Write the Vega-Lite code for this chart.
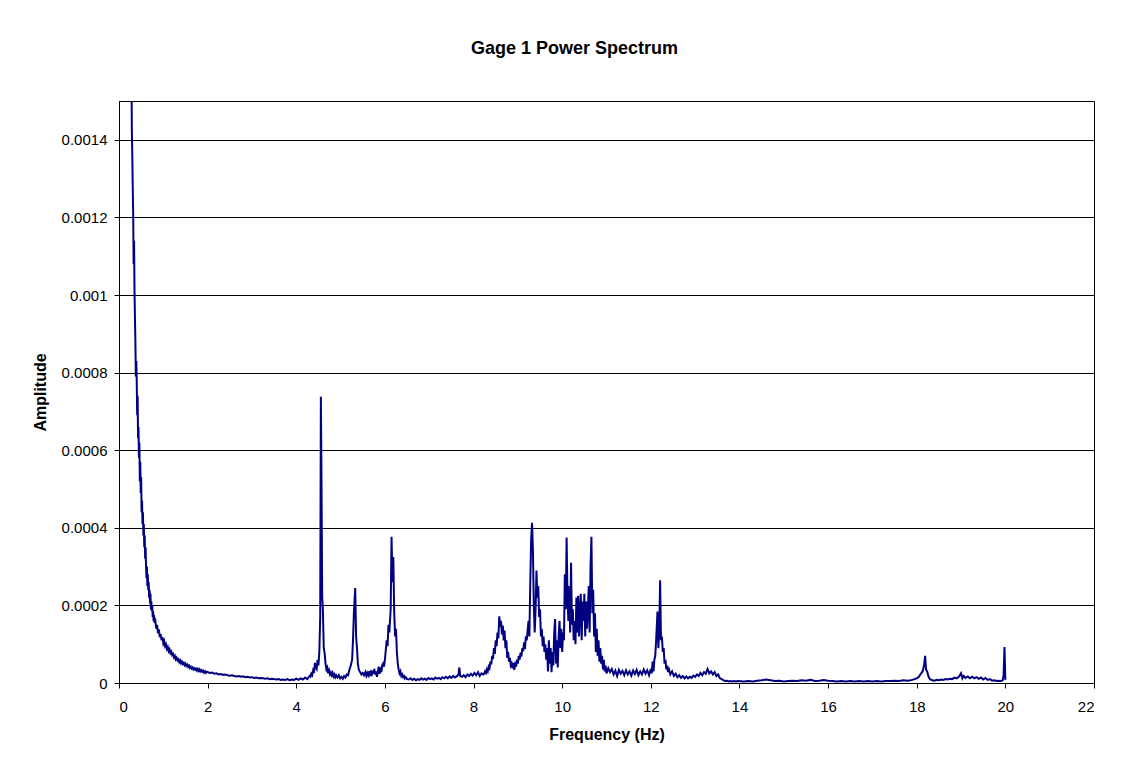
{
  "$schema": "https://vega.github.io/schema/vega-lite/v6.json",
  "autosize": {"type": "none"},
  "padding": {"left": 119, "top": 101, "right": 34, "bottom": 84},
  "width": 975,
  "height": 582,
  "background": "white",
  "config": {
    "font": "Liberation Sans",
    "view": {"stroke": "#000000", "strokeWidth": 1}
  },
  "title": {
    "text": "Gage 1 Power Spectrum",
    "font": "Liberation Sans",
    "fontSize": 18,
    "fontWeight": "bold",
    "color": "#000000",
    "anchor": "middle",
    "dx": -32,
    "offset": 43
  },
  "data": {
    "values": [
      {"freq": 0.27, "amp": 0.00195},
      {"freq": 0.28, "amp": 0.0016},
      {"freq": 0.29, "amp": 0.00142},
      {"freq": 0.3, "amp": 0.00136},
      {"freq": 0.31, "amp": 0.00128},
      {"freq": 0.32, "amp": 0.00121},
      {"freq": 0.33, "amp": 0.00108},
      {"freq": 0.34, "amp": 0.00114},
      {"freq": 0.35, "amp": 0.00101},
      {"freq": 0.36, "amp": 0.00094},
      {"freq": 0.37, "amp": 0.00088},
      {"freq": 0.38, "amp": 0.00079},
      {"freq": 0.39, "amp": 0.00083},
      {"freq": 0.4, "amp": 0.00078},
      {"freq": 0.41, "amp": 0.00069},
      {"freq": 0.42, "amp": 0.00074},
      {"freq": 0.43, "amp": 0.00063},
      {"freq": 0.44, "amp": 0.00066},
      {"freq": 0.45, "amp": 0.00058},
      {"freq": 0.46, "amp": 0.00062},
      {"freq": 0.47, "amp": 0.00052},
      {"freq": 0.48, "amp": 0.00057},
      {"freq": 0.49, "amp": 0.00049},
      {"freq": 0.5, "amp": 0.00053},
      {"freq": 0.51, "amp": 0.00044},
      {"freq": 0.52, "amp": 0.00047},
      {"freq": 0.53, "amp": 0.00041},
      {"freq": 0.54, "amp": 0.00044},
      {"freq": 0.55, "amp": 0.00038},
      {"freq": 0.56, "amp": 0.00041},
      {"freq": 0.57, "amp": 0.00035},
      {"freq": 0.58, "amp": 0.00038},
      {"freq": 0.59, "amp": 0.00032},
      {"freq": 0.6, "amp": 0.00035},
      {"freq": 0.61, "amp": 0.0003},
      {"freq": 0.62, "amp": 0.00027},
      {"freq": 0.63, "amp": 0.0003},
      {"freq": 0.64, "amp": 0.00025},
      {"freq": 0.65, "amp": 0.00028},
      {"freq": 0.66, "amp": 0.00024},
      {"freq": 0.67, "amp": 0.00026},
      {"freq": 0.68, "amp": 0.00022},
      {"freq": 0.69, "amp": 0.00024},
      {"freq": 0.7, "amp": 0.000205},
      {"freq": 0.71, "amp": 0.00023},
      {"freq": 0.72, "amp": 0.00019},
      {"freq": 0.73, "amp": 0.00021},
      {"freq": 0.74, "amp": 0.000185},
      {"freq": 0.75, "amp": 0.0002},
      {"freq": 0.76, "amp": 0.00017},
      {"freq": 0.77, "amp": 0.000185},
      {"freq": 0.78, "amp": 0.00016},
      {"freq": 0.79, "amp": 0.000175},
      {"freq": 0.8, "amp": 0.000155},
      {"freq": 0.82, "amp": 0.00016},
      {"freq": 0.84, "amp": 0.00014},
      {"freq": 0.86, "amp": 0.00015},
      {"freq": 0.88, "amp": 0.000128},
      {"freq": 0.9, "amp": 0.000138},
      {"freq": 0.92, "amp": 0.000118},
      {"freq": 0.94, "amp": 0.000126},
      {"freq": 0.96, "amp": 0.00011},
      {"freq": 0.98, "amp": 0.000118},
      {"freq": 1.0, "amp": 0.000102},
      {"freq": 1.02, "amp": 0.000108},
      {"freq": 1.04, "amp": 0.000095},
      {"freq": 1.06, "amp": 0.0001},
      {"freq": 1.08, "amp": 0.000088},
      {"freq": 1.1, "amp": 0.000093},
      {"freq": 1.12, "amp": 0.000082},
      {"freq": 1.14, "amp": 0.000087},
      {"freq": 1.16, "amp": 0.000077},
      {"freq": 1.18, "amp": 0.000081},
      {"freq": 1.2, "amp": 0.000072},
      {"freq": 1.22, "amp": 0.000075},
      {"freq": 1.24, "amp": 0.000066},
      {"freq": 1.26, "amp": 0.00007},
      {"freq": 1.28, "amp": 0.000061},
      {"freq": 1.3, "amp": 0.000065},
      {"freq": 1.32, "amp": 0.000058},
      {"freq": 1.34, "amp": 0.000061},
      {"freq": 1.36, "amp": 0.000054},
      {"freq": 1.38, "amp": 0.000058},
      {"freq": 1.4, "amp": 0.000051},
      {"freq": 1.42, "amp": 0.000055},
      {"freq": 1.44, "amp": 0.000049},
      {"freq": 1.46, "amp": 0.000052},
      {"freq": 1.48, "amp": 0.000046},
      {"freq": 1.5, "amp": 0.00005},
      {"freq": 1.52, "amp": 0.000044},
      {"freq": 1.54, "amp": 0.000047},
      {"freq": 1.56, "amp": 0.000042},
      {"freq": 1.58, "amp": 0.000045},
      {"freq": 1.6, "amp": 0.000039},
      {"freq": 1.62, "amp": 0.000042},
      {"freq": 1.64, "amp": 0.000037},
      {"freq": 1.66, "amp": 0.00004},
      {"freq": 1.68, "amp": 0.000035},
      {"freq": 1.7, "amp": 0.000038},
      {"freq": 1.72, "amp": 0.000034},
      {"freq": 1.74, "amp": 0.000037},
      {"freq": 1.76, "amp": 0.000032},
      {"freq": 1.78, "amp": 0.000036},
      {"freq": 1.8, "amp": 0.000031},
      {"freq": 1.82, "amp": 0.000035},
      {"freq": 1.84, "amp": 0.00003},
      {"freq": 1.86, "amp": 0.000033},
      {"freq": 1.88, "amp": 0.000029},
      {"freq": 1.9, "amp": 0.000032},
      {"freq": 1.92, "amp": 0.000027},
      {"freq": 1.94, "amp": 0.00003},
      {"freq": 1.96, "amp": 0.000026},
      {"freq": 1.98, "amp": 0.000029},
      {"freq": 2.05, "amp": 0.000026},
      {"freq": 2.1, "amp": 0.000027},
      {"freq": 2.15, "amp": 0.000024},
      {"freq": 2.2, "amp": 0.000025},
      {"freq": 2.25, "amp": 0.000022},
      {"freq": 2.3, "amp": 0.000023},
      {"freq": 2.35, "amp": 0.000021},
      {"freq": 2.4, "amp": 0.000022},
      {"freq": 2.45, "amp": 0.00002},
      {"freq": 2.5, "amp": 0.000019},
      {"freq": 2.55, "amp": 0.00002},
      {"freq": 2.6, "amp": 0.000018},
      {"freq": 2.65, "amp": 0.000017},
      {"freq": 2.7, "amp": 0.000018},
      {"freq": 2.75, "amp": 0.000016},
      {"freq": 2.8, "amp": 0.000017},
      {"freq": 2.85, "amp": 0.000015},
      {"freq": 2.9, "amp": 0.000016},
      {"freq": 2.95, "amp": 0.000014},
      {"freq": 3.0, "amp": 0.000015},
      {"freq": 3.05, "amp": 0.000013},
      {"freq": 3.1, "amp": 0.000014},
      {"freq": 3.15, "amp": 0.000012},
      {"freq": 3.2, "amp": 0.000013},
      {"freq": 3.25, "amp": 0.000012},
      {"freq": 3.3, "amp": 0.000011},
      {"freq": 3.35, "amp": 0.000012},
      {"freq": 3.4, "amp": 0.00001},
      {"freq": 3.45, "amp": 0.000011},
      {"freq": 3.5, "amp": 0.00001},
      {"freq": 3.55, "amp": 0.000009},
      {"freq": 3.6, "amp": 0.00001},
      {"freq": 3.65, "amp": 0.000008},
      {"freq": 3.7, "amp": 0.000009},
      {"freq": 3.75, "amp": 0.000008},
      {"freq": 3.8, "amp": 0.00001},
      {"freq": 3.85, "amp": 0.000007},
      {"freq": 3.9, "amp": 0.000009},
      {"freq": 3.95, "amp": 0.000008},
      {"freq": 4.0, "amp": 0.000011},
      {"freq": 4.05, "amp": 0.000008},
      {"freq": 4.1, "amp": 0.000012},
      {"freq": 4.15, "amp": 0.000009},
      {"freq": 4.2, "amp": 0.000014},
      {"freq": 4.25, "amp": 0.00001},
      {"freq": 4.3, "amp": 0.000018},
      {"freq": 4.32, "amp": 0.000016},
      {"freq": 4.34, "amp": 0.000024},
      {"freq": 4.36, "amp": 0.00002},
      {"freq": 4.38, "amp": 0.000032},
      {"freq": 4.4, "amp": 0.000026},
      {"freq": 4.42, "amp": 0.000052},
      {"freq": 4.44, "amp": 0.00004},
      {"freq": 4.46, "amp": 0.000036},
      {"freq": 4.48, "amp": 0.00006},
      {"freq": 4.5, "amp": 0.000045},
      {"freq": 4.52, "amp": 0.00008},
      {"freq": 4.54, "amp": 0.00017},
      {"freq": 4.555, "amp": 0.000738},
      {"freq": 4.57, "amp": 0.00051},
      {"freq": 4.585, "amp": 0.00022},
      {"freq": 4.6, "amp": 0.00019},
      {"freq": 4.62, "amp": 0.00009},
      {"freq": 4.64, "amp": 0.000077},
      {"freq": 4.66, "amp": 0.00005},
      {"freq": 4.68, "amp": 0.000035},
      {"freq": 4.7, "amp": 0.00004},
      {"freq": 4.72, "amp": 0.000025},
      {"freq": 4.74, "amp": 0.000032},
      {"freq": 4.76, "amp": 0.000022},
      {"freq": 4.78, "amp": 0.000027},
      {"freq": 4.8, "amp": 0.00002},
      {"freq": 4.82, "amp": 0.000026},
      {"freq": 4.84, "amp": 0.000017},
      {"freq": 4.86, "amp": 0.000022},
      {"freq": 4.88, "amp": 0.000015},
      {"freq": 4.9, "amp": 0.00002},
      {"freq": 4.93, "amp": 0.000014},
      {"freq": 4.96, "amp": 0.00002},
      {"freq": 4.99, "amp": 0.000012},
      {"freq": 5.02, "amp": 0.000016},
      {"freq": 5.05, "amp": 0.000011},
      {"freq": 5.08, "amp": 0.000018},
      {"freq": 5.11, "amp": 0.000014},
      {"freq": 5.14, "amp": 0.000022},
      {"freq": 5.17, "amp": 0.00002},
      {"freq": 5.2, "amp": 0.000035},
      {"freq": 5.23, "amp": 0.000045},
      {"freq": 5.26, "amp": 0.00006},
      {"freq": 5.28, "amp": 0.00011},
      {"freq": 5.3, "amp": 0.00018},
      {"freq": 5.33, "amp": 0.000245},
      {"freq": 5.35, "amp": 0.00012},
      {"freq": 5.37, "amp": 0.00009},
      {"freq": 5.39, "amp": 0.00005},
      {"freq": 5.41, "amp": 0.000035},
      {"freq": 5.44, "amp": 0.000028},
      {"freq": 5.47, "amp": 0.000022},
      {"freq": 5.5, "amp": 0.000026},
      {"freq": 5.53, "amp": 0.00002},
      {"freq": 5.56, "amp": 0.000028},
      {"freq": 5.58, "amp": 0.000019},
      {"freq": 5.6, "amp": 0.000026},
      {"freq": 5.62, "amp": 0.00002},
      {"freq": 5.64, "amp": 0.00003},
      {"freq": 5.66, "amp": 0.000022},
      {"freq": 5.68, "amp": 0.000028},
      {"freq": 5.7, "amp": 0.000018},
      {"freq": 5.72, "amp": 0.000032},
      {"freq": 5.74, "amp": 0.000024},
      {"freq": 5.76, "amp": 0.000036},
      {"freq": 5.78, "amp": 0.000022},
      {"freq": 5.8, "amp": 0.00003},
      {"freq": 5.82, "amp": 0.000016},
      {"freq": 5.84, "amp": 0.000028},
      {"freq": 5.86, "amp": 0.000042},
      {"freq": 5.88, "amp": 0.000024},
      {"freq": 5.9, "amp": 0.000034},
      {"freq": 5.92, "amp": 0.000028},
      {"freq": 5.94, "amp": 0.000046},
      {"freq": 5.96, "amp": 0.00005},
      {"freq": 5.98, "amp": 0.000042},
      {"freq": 6.0, "amp": 0.00006},
      {"freq": 6.02, "amp": 0.000085},
      {"freq": 6.04, "amp": 0.00011},
      {"freq": 6.06, "amp": 0.000095},
      {"freq": 6.08, "amp": 0.00015},
      {"freq": 6.1, "amp": 0.00013},
      {"freq": 6.13, "amp": 0.00019},
      {"freq": 6.15, "amp": 0.000377},
      {"freq": 6.17, "amp": 0.00026},
      {"freq": 6.19, "amp": 0.000325},
      {"freq": 6.21, "amp": 0.00018},
      {"freq": 6.23, "amp": 0.00012},
      {"freq": 6.25, "amp": 0.00014},
      {"freq": 6.27, "amp": 0.00008},
      {"freq": 6.29, "amp": 0.00005},
      {"freq": 6.31, "amp": 0.000035},
      {"freq": 6.33, "amp": 0.000025},
      {"freq": 6.35, "amp": 0.00003},
      {"freq": 6.37, "amp": 0.000018},
      {"freq": 6.39, "amp": 0.000022},
      {"freq": 6.41, "amp": 0.000015},
      {"freq": 6.43, "amp": 0.000018},
      {"freq": 6.45, "amp": 0.000012},
      {"freq": 6.47, "amp": 0.000015},
      {"freq": 6.5, "amp": 0.00001},
      {"freq": 6.54, "amp": 0.000009},
      {"freq": 6.58, "amp": 0.000012},
      {"freq": 6.62, "amp": 0.000008},
      {"freq": 6.66, "amp": 0.000011},
      {"freq": 6.7, "amp": 0.000007},
      {"freq": 6.74, "amp": 0.00001},
      {"freq": 6.78, "amp": 0.000008},
      {"freq": 6.82, "amp": 0.000012},
      {"freq": 6.86, "amp": 0.000009},
      {"freq": 6.9, "amp": 0.000011},
      {"freq": 6.94, "amp": 0.000008},
      {"freq": 6.98, "amp": 0.000013},
      {"freq": 7.02, "amp": 0.00001},
      {"freq": 7.06, "amp": 0.000012},
      {"freq": 7.1, "amp": 0.000009},
      {"freq": 7.14, "amp": 0.000014},
      {"freq": 7.18, "amp": 0.000011},
      {"freq": 7.22, "amp": 0.000013},
      {"freq": 7.26, "amp": 0.00001},
      {"freq": 7.3, "amp": 0.000015},
      {"freq": 7.34, "amp": 0.000012},
      {"freq": 7.38, "amp": 0.000016},
      {"freq": 7.42, "amp": 0.000012},
      {"freq": 7.46, "amp": 0.000017},
      {"freq": 7.5, "amp": 0.000013},
      {"freq": 7.54, "amp": 0.000018},
      {"freq": 7.58, "amp": 0.000014},
      {"freq": 7.62, "amp": 0.000017},
      {"freq": 7.66, "amp": 0.000022},
      {"freq": 7.68, "amp": 0.00004},
      {"freq": 7.7, "amp": 0.000018},
      {"freq": 7.74, "amp": 0.000016},
      {"freq": 7.78, "amp": 0.00002},
      {"freq": 7.82, "amp": 0.000015},
      {"freq": 7.86, "amp": 0.000022},
      {"freq": 7.9, "amp": 0.000018},
      {"freq": 7.94, "amp": 0.000024},
      {"freq": 7.98, "amp": 0.000019},
      {"freq": 8.02, "amp": 0.000026},
      {"freq": 8.06, "amp": 0.00002},
      {"freq": 8.1, "amp": 0.000028},
      {"freq": 8.14, "amp": 0.000018},
      {"freq": 8.18, "amp": 0.000025},
      {"freq": 8.22, "amp": 0.000022},
      {"freq": 8.24, "amp": 0.000024},
      {"freq": 8.26, "amp": 0.00003},
      {"freq": 8.28, "amp": 0.000026},
      {"freq": 8.3, "amp": 0.000035},
      {"freq": 8.32, "amp": 0.00003},
      {"freq": 8.34, "amp": 0.000042},
      {"freq": 8.36, "amp": 0.000038},
      {"freq": 8.38, "amp": 0.000055},
      {"freq": 8.4, "amp": 0.000048},
      {"freq": 8.42, "amp": 0.00007},
      {"freq": 8.44, "amp": 0.000062},
      {"freq": 8.46, "amp": 0.00009},
      {"freq": 8.48, "amp": 0.000075},
      {"freq": 8.5, "amp": 0.00011},
      {"freq": 8.52, "amp": 0.000095},
      {"freq": 8.54, "amp": 0.00013},
      {"freq": 8.56, "amp": 0.000115},
      {"freq": 8.58, "amp": 0.000172},
      {"freq": 8.6, "amp": 0.000145},
      {"freq": 8.62, "amp": 0.00016},
      {"freq": 8.64, "amp": 0.000125},
      {"freq": 8.66, "amp": 0.000148},
      {"freq": 8.68, "amp": 0.00011},
      {"freq": 8.7, "amp": 0.000135},
      {"freq": 8.72, "amp": 0.00009},
      {"freq": 8.74, "amp": 0.00011},
      {"freq": 8.76, "amp": 0.000065},
      {"freq": 8.78, "amp": 0.00008},
      {"freq": 8.8, "amp": 0.000055},
      {"freq": 8.82, "amp": 0.000065},
      {"freq": 8.84, "amp": 0.000045},
      {"freq": 8.86, "amp": 0.00005},
      {"freq": 8.88, "amp": 0.000038},
      {"freq": 8.9, "amp": 0.000052},
      {"freq": 8.92, "amp": 0.000034},
      {"freq": 8.94, "amp": 0.000048},
      {"freq": 8.96, "amp": 0.000042},
      {"freq": 8.98, "amp": 0.00006},
      {"freq": 9.0, "amp": 0.00005},
      {"freq": 9.02, "amp": 0.00007},
      {"freq": 9.04, "amp": 0.00006},
      {"freq": 9.06, "amp": 0.000078},
      {"freq": 9.08, "amp": 0.000068},
      {"freq": 9.1, "amp": 0.00009},
      {"freq": 9.12, "amp": 0.000082},
      {"freq": 9.14, "amp": 0.000105},
      {"freq": 9.16, "amp": 0.000088},
      {"freq": 9.18, "amp": 0.00012},
      {"freq": 9.2, "amp": 0.00011},
      {"freq": 9.22, "amp": 0.000135},
      {"freq": 9.24, "amp": 0.00016},
      {"freq": 9.26, "amp": 0.00012},
      {"freq": 9.28, "amp": 0.00026},
      {"freq": 9.3, "amp": 0.00037},
      {"freq": 9.32, "amp": 0.000413},
      {"freq": 9.34, "amp": 0.00034},
      {"freq": 9.36, "amp": 0.0002},
      {"freq": 9.38, "amp": 0.00013},
      {"freq": 9.4, "amp": 0.00019},
      {"freq": 9.42, "amp": 0.00029},
      {"freq": 9.44, "amp": 0.00022},
      {"freq": 9.46, "amp": 0.00025},
      {"freq": 9.48, "amp": 0.00017},
      {"freq": 9.5, "amp": 0.00019},
      {"freq": 9.52, "amp": 0.00012},
      {"freq": 9.54, "amp": 0.00014},
      {"freq": 9.56, "amp": 0.000095},
      {"freq": 9.58, "amp": 0.00012},
      {"freq": 9.6, "amp": 0.00008},
      {"freq": 9.62, "amp": 0.0001},
      {"freq": 9.64, "amp": 0.00006},
      {"freq": 9.66, "amp": 0.00009},
      {"freq": 9.68, "amp": 0.00003},
      {"freq": 9.7, "amp": 0.00011},
      {"freq": 9.72, "amp": 0.00005},
      {"freq": 9.74, "amp": 0.00009},
      {"freq": 9.76, "amp": 0.000028},
      {"freq": 9.78, "amp": 0.00008},
      {"freq": 9.8, "amp": 0.000045},
      {"freq": 9.82, "amp": 0.00013},
      {"freq": 9.84, "amp": 0.000165},
      {"freq": 9.86, "amp": 0.00005},
      {"freq": 9.88, "amp": 0.00011},
      {"freq": 9.9, "amp": 0.00004},
      {"freq": 9.92, "amp": 0.00012},
      {"freq": 9.94, "amp": 0.00016},
      {"freq": 9.96, "amp": 0.00009},
      {"freq": 9.98, "amp": 0.00014},
      {"freq": 10.0, "amp": 0.00008},
      {"freq": 10.02, "amp": 0.00013},
      {"freq": 10.04, "amp": 0.00011},
      {"freq": 10.06, "amp": 0.00028},
      {"freq": 10.08, "amp": 0.00019},
      {"freq": 10.1, "amp": 0.000375},
      {"freq": 10.12, "amp": 0.00022},
      {"freq": 10.14, "amp": 0.00016},
      {"freq": 10.16, "amp": 0.00025},
      {"freq": 10.18, "amp": 0.00013},
      {"freq": 10.2, "amp": 0.00031},
      {"freq": 10.22, "amp": 0.00015},
      {"freq": 10.24, "amp": 0.00019},
      {"freq": 10.26, "amp": 0.00011},
      {"freq": 10.28, "amp": 0.00016},
      {"freq": 10.3, "amp": 0.0001},
      {"freq": 10.32, "amp": 0.00022},
      {"freq": 10.34, "amp": 0.00013},
      {"freq": 10.36, "amp": 0.000225},
      {"freq": 10.38, "amp": 0.00012},
      {"freq": 10.4, "amp": 0.00019},
      {"freq": 10.42, "amp": 0.00023},
      {"freq": 10.44, "amp": 0.00011},
      {"freq": 10.46, "amp": 0.00021},
      {"freq": 10.48, "amp": 0.00016},
      {"freq": 10.5, "amp": 0.00023},
      {"freq": 10.52, "amp": 0.00012},
      {"freq": 10.54, "amp": 0.00021},
      {"freq": 10.56, "amp": 0.00014},
      {"freq": 10.58, "amp": 0.00019},
      {"freq": 10.6, "amp": 0.00025},
      {"freq": 10.62, "amp": 0.00013},
      {"freq": 10.64, "amp": 0.0003},
      {"freq": 10.66, "amp": 0.000377},
      {"freq": 10.68, "amp": 0.00018},
      {"freq": 10.7, "amp": 0.00024},
      {"freq": 10.72, "amp": 0.00012},
      {"freq": 10.74, "amp": 0.00018},
      {"freq": 10.76, "amp": 0.00008},
      {"freq": 10.78, "amp": 0.00014},
      {"freq": 10.8, "amp": 0.00007},
      {"freq": 10.82, "amp": 0.00011},
      {"freq": 10.84, "amp": 0.000055},
      {"freq": 10.86, "amp": 0.00009},
      {"freq": 10.88, "amp": 0.00005},
      {"freq": 10.9, "amp": 0.00007},
      {"freq": 10.92, "amp": 0.000035},
      {"freq": 10.94, "amp": 0.00006},
      {"freq": 10.96, "amp": 0.00003},
      {"freq": 10.98, "amp": 0.000045},
      {"freq": 11.0, "amp": 0.000025},
      {"freq": 11.04, "amp": 0.000038},
      {"freq": 11.08, "amp": 0.000028},
      {"freq": 11.12, "amp": 0.000036},
      {"freq": 11.16, "amp": 0.000022},
      {"freq": 11.2, "amp": 0.000032},
      {"freq": 11.24, "amp": 0.000018},
      {"freq": 11.28, "amp": 0.000034},
      {"freq": 11.32, "amp": 0.000024},
      {"freq": 11.36, "amp": 0.000031},
      {"freq": 11.4, "amp": 0.00002},
      {"freq": 11.44, "amp": 0.000033},
      {"freq": 11.48, "amp": 0.000022},
      {"freq": 11.52, "amp": 0.00003},
      {"freq": 11.56, "amp": 0.000019},
      {"freq": 11.6, "amp": 0.000032},
      {"freq": 11.64, "amp": 0.000023},
      {"freq": 11.68, "amp": 0.000034},
      {"freq": 11.72, "amp": 0.00002},
      {"freq": 11.76, "amp": 0.00003},
      {"freq": 11.8, "amp": 0.000022},
      {"freq": 11.84, "amp": 0.000035},
      {"freq": 11.88, "amp": 0.000024},
      {"freq": 11.92, "amp": 0.000033},
      {"freq": 11.96, "amp": 0.00002},
      {"freq": 12.0, "amp": 0.000036},
      {"freq": 12.02, "amp": 0.000025},
      {"freq": 12.04, "amp": 0.000055},
      {"freq": 12.06, "amp": 0.00003},
      {"freq": 12.08, "amp": 0.00006},
      {"freq": 12.1, "amp": 0.00007},
      {"freq": 12.12, "amp": 0.00011},
      {"freq": 12.15, "amp": 0.000184},
      {"freq": 12.17, "amp": 0.00009},
      {"freq": 12.19, "amp": 0.00013},
      {"freq": 12.21, "amp": 0.000265},
      {"freq": 12.23, "amp": 0.00011},
      {"freq": 12.25, "amp": 0.00012},
      {"freq": 12.27, "amp": 0.00008},
      {"freq": 12.29, "amp": 0.00009},
      {"freq": 12.31, "amp": 0.00005},
      {"freq": 12.33, "amp": 0.00006},
      {"freq": 12.35, "amp": 0.000035},
      {"freq": 12.37, "amp": 0.000045},
      {"freq": 12.39, "amp": 0.000028},
      {"freq": 12.41, "amp": 0.000035},
      {"freq": 12.44, "amp": 0.000022},
      {"freq": 12.48, "amp": 0.00003},
      {"freq": 12.52, "amp": 0.000018},
      {"freq": 12.56, "amp": 0.000024},
      {"freq": 12.6, "amp": 0.000015},
      {"freq": 12.64, "amp": 0.00002},
      {"freq": 12.68, "amp": 0.000013},
      {"freq": 12.72, "amp": 0.000018},
      {"freq": 12.76, "amp": 0.000012},
      {"freq": 12.8, "amp": 0.000017},
      {"freq": 12.84, "amp": 0.000012},
      {"freq": 12.88, "amp": 0.000016},
      {"freq": 12.92, "amp": 0.000013},
      {"freq": 12.96, "amp": 0.000019},
      {"freq": 13.0, "amp": 0.000016},
      {"freq": 13.04, "amp": 0.000022},
      {"freq": 13.08, "amp": 0.000018},
      {"freq": 13.12, "amp": 0.000026},
      {"freq": 13.16, "amp": 0.00002},
      {"freq": 13.2, "amp": 0.000028},
      {"freq": 13.24, "amp": 0.000024},
      {"freq": 13.28, "amp": 0.000036},
      {"freq": 13.32, "amp": 0.000025},
      {"freq": 13.36, "amp": 0.00003},
      {"freq": 13.4, "amp": 0.000022},
      {"freq": 13.44, "amp": 0.000028},
      {"freq": 13.48, "amp": 0.000018},
      {"freq": 13.52, "amp": 0.000022},
      {"freq": 13.56, "amp": 0.000012},
      {"freq": 13.6, "amp": 0.00001},
      {"freq": 13.64, "amp": 0.000007},
      {"freq": 13.68, "amp": 0.000005},
      {"freq": 13.72, "amp": 0.000006},
      {"freq": 13.76, "amp": 0.000004},
      {"freq": 13.8, "amp": 0.000005},
      {"freq": 13.84, "amp": 0.000004},
      {"freq": 13.88, "amp": 0.000005},
      {"freq": 13.92, "amp": 0.000004},
      {"freq": 13.96, "amp": 0.000005},
      {"freq": 14.1, "amp": 0.000004},
      {"freq": 14.2, "amp": 0.000005},
      {"freq": 14.3, "amp": 0.000004},
      {"freq": 14.4, "amp": 0.000006},
      {"freq": 14.5, "amp": 0.000007},
      {"freq": 14.6, "amp": 0.000009},
      {"freq": 14.7, "amp": 0.000007},
      {"freq": 14.8, "amp": 0.000005},
      {"freq": 14.9, "amp": 0.000006},
      {"freq": 15.0, "amp": 0.000004},
      {"freq": 15.1, "amp": 0.000005},
      {"freq": 15.2, "amp": 0.000006},
      {"freq": 15.3, "amp": 0.000005},
      {"freq": 15.4, "amp": 0.000007},
      {"freq": 15.5, "amp": 0.000006},
      {"freq": 15.6, "amp": 0.000008},
      {"freq": 15.7, "amp": 0.000005},
      {"freq": 15.8, "amp": 0.000006},
      {"freq": 15.9, "amp": 0.000008},
      {"freq": 16.0, "amp": 0.000006},
      {"freq": 16.1, "amp": 0.000005},
      {"freq": 16.2, "amp": 0.000004},
      {"freq": 16.3, "amp": 0.000005},
      {"freq": 16.4, "amp": 0.000004},
      {"freq": 16.5, "amp": 0.000005},
      {"freq": 16.6, "amp": 0.000004},
      {"freq": 16.7, "amp": 0.000005},
      {"freq": 16.8, "amp": 0.000004},
      {"freq": 16.9, "amp": 0.000005},
      {"freq": 17.0, "amp": 0.000004},
      {"freq": 17.1, "amp": 0.000005},
      {"freq": 17.2, "amp": 0.000004},
      {"freq": 17.3, "amp": 0.000005},
      {"freq": 17.4, "amp": 0.000005},
      {"freq": 17.5, "amp": 0.000006},
      {"freq": 17.6, "amp": 0.000005},
      {"freq": 17.7, "amp": 0.000007},
      {"freq": 17.8, "amp": 0.000006},
      {"freq": 17.9, "amp": 0.000008},
      {"freq": 17.95, "amp": 0.00001},
      {"freq": 18.0, "amp": 0.000012},
      {"freq": 18.05, "amp": 0.000016},
      {"freq": 18.08, "amp": 0.000022},
      {"freq": 18.11, "amp": 0.000026},
      {"freq": 18.14, "amp": 0.000032},
      {"freq": 18.17, "amp": 0.00005},
      {"freq": 18.19, "amp": 0.00007},
      {"freq": 18.21, "amp": 0.000035},
      {"freq": 18.24, "amp": 0.000028},
      {"freq": 18.27, "amp": 0.000015},
      {"freq": 18.3, "amp": 0.00001},
      {"freq": 18.35, "amp": 0.000007},
      {"freq": 18.4, "amp": 0.000006},
      {"freq": 18.45, "amp": 0.000008},
      {"freq": 18.5, "amp": 0.000007},
      {"freq": 18.55, "amp": 0.000009},
      {"freq": 18.6, "amp": 0.000008},
      {"freq": 18.65, "amp": 0.00001},
      {"freq": 18.7, "amp": 0.000009},
      {"freq": 18.75, "amp": 0.000011},
      {"freq": 18.8, "amp": 0.00001},
      {"freq": 18.85, "amp": 0.000014},
      {"freq": 18.9, "amp": 0.000012},
      {"freq": 18.95, "amp": 0.000016},
      {"freq": 19.0, "amp": 0.000025},
      {"freq": 19.03, "amp": 0.000012},
      {"freq": 19.06, "amp": 0.000018},
      {"freq": 19.1, "amp": 0.000013},
      {"freq": 19.15, "amp": 0.000017},
      {"freq": 19.2, "amp": 0.000012},
      {"freq": 19.25, "amp": 0.000016},
      {"freq": 19.3, "amp": 0.000012},
      {"freq": 19.35, "amp": 0.000015},
      {"freq": 19.4, "amp": 0.000011},
      {"freq": 19.45, "amp": 0.000014},
      {"freq": 19.5, "amp": 0.000009},
      {"freq": 19.55, "amp": 0.000013},
      {"freq": 19.6, "amp": 0.000008},
      {"freq": 19.65, "amp": 0.00001},
      {"freq": 19.7, "amp": 0.000006},
      {"freq": 19.75, "amp": 0.000007},
      {"freq": 19.8, "amp": 0.000005},
      {"freq": 19.85, "amp": 0.000006},
      {"freq": 19.9, "amp": 0.000005},
      {"freq": 19.94, "amp": 0.000007},
      {"freq": 19.96, "amp": 0.00002},
      {"freq": 19.98, "amp": 0.000093},
      {"freq": 20.0, "amp": 0.000008}
    ]
  },
  "mark": {"type": "line", "color": "#000080", "strokeWidth": 2, "clip": true, "interpolate": "linear"},
  "encoding": {
    "x": {
      "field": "freq",
      "type": "quantitative",
      "scale": {"domain": [0, 22], "nice": false, "zero": false},
      "axis": {
        "title": "Frequency (Hz)",
        "values": [0, 2, 4, 6, 8, 10, 12, 14, 16, 18, 20, 22],
        "grid": false,
        "domainColor": "#000000",
        "domainWidth": 1,
        "tickColor": "#000000",
        "tickSize": 5,
        "labelFontSize": 15,
        "labelColor": "#000000",
        "labelPadding": 11,
        "titleFontSize": 16,
        "titleFontWeight": "bold",
        "titleColor": "#000000",
        "titlePadding": 12
      }
    },
    "y": {
      "field": "amp",
      "type": "quantitative",
      "scale": {"domain": [0, 0.0015], "nice": false, "zero": true},
      "axis": {
        "title": "Amplitude",
        "values": [0, 0.0002, 0.0004, 0.0006, 0.0008, 0.001, 0.0012, 0.0014],
        "format": "~g",
        "grid": true,
        "gridColor": "#000000",
        "gridWidth": 1,
        "domainColor": "#000000",
        "domainWidth": 1,
        "tickColor": "#000000",
        "tickSize": 5,
        "labelFontSize": 15,
        "labelColor": "#000000",
        "labelPadding": 7,
        "titleFontSize": 16,
        "titleFontWeight": "bold",
        "titleColor": "#000000",
        "titlePadding": 13
      }
    }
  }
}
